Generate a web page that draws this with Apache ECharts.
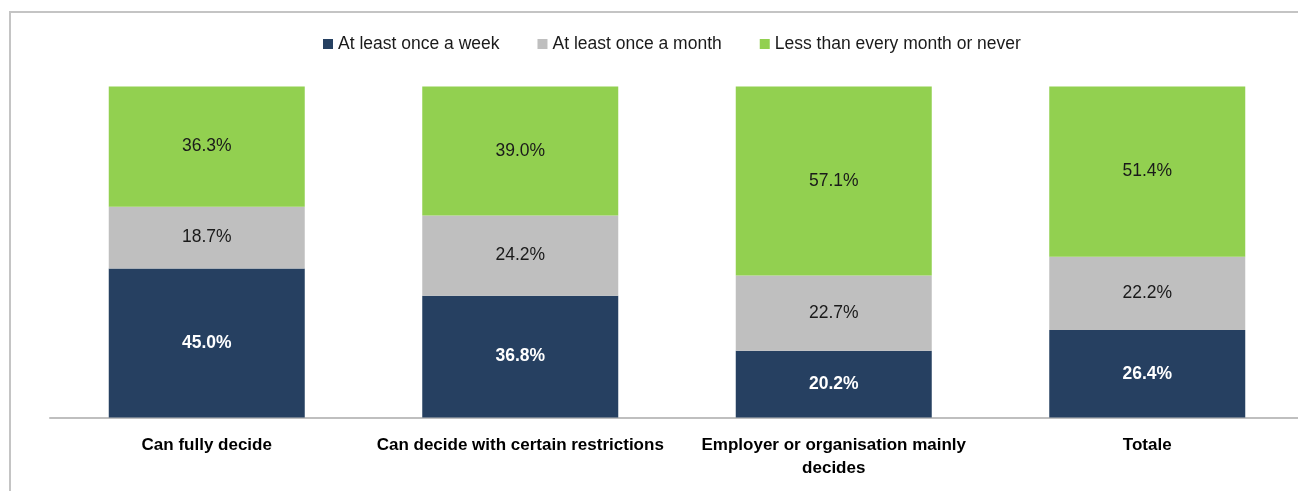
<!DOCTYPE html>
<html>
<head>
<meta charset="utf-8">
<script src="https://cdn.jsdelivr.net/npm/echarts@6/dist/echarts.min.js"></script>
<style>
html,body{margin:0;padding:0;background:#fff;overflow:hidden;}
#c{width:1304px;height:491px;}
</style>
</head>
<body>
<div id="c"></div>
<script>
const categories = ["Can fully decide", "Can decide with certain restrictions", "Employer or organisation mainly\ndecides", "Totale"];
const seriesNames = ["At least once a week", "At least once a month", "Less than every month or never"];
const weekly = [45.0, 36.8, 20.2, 26.4];
const monthly = [18.7, 24.2, 22.7, 22.2];
const rarely = [36.3, 39.0, 57.1, 51.4];
const colors = ["#264061", "#BFBFBF", "#92D050"];

const FONT = "'Liberation Sans Narrow', 'Arial Narrow', 'Liberation Sans', Arial, sans-serif";
const values = [weekly, monthly, rarely];

const chart = echarts.init(document.getElementById('c'), null, {renderer: 'canvas'});
chart.setOption({
  animation: false,
  color: colors,
  graphic: [{
    type: 'rect',
    shape: {x: 10, y: 12, width: 1320, height: 520},
    style: {fill: 'none', stroke: '#C4C4C4', lineWidth: 2},
    silent: true
  }],
  legend: {
    top: 35,
    left: 323,
    padding: 0,
    itemWidth: 10,
    itemHeight: 10,
    itemGap: 38,
    icon: 'rect',
    textStyle: {fontFamily: FONT, fontSize: 17.5, color: '#1a1a1a'},
    data: seriesNames
  },
  grid: {left: 50, right: 0, top: 86.5, bottom: 73.5, containLabel: false},
  xAxis: {
    type: 'category',
    data: categories,
    axisLine: {lineStyle: {color: '#BFBFBF', width: 2}},
    axisTick: {show: false},
    axisLabel: {
      fontFamily: FONT, fontSize: 17, fontWeight: 'bold', color: '#000',
      margin: 16, lineHeight: 23, interval: 0
    }
  },
  yAxis: {
    type: 'value', min: 0, max: 100, show: false,
    splitLine: {show: false}
  },
  series: values.map((v, i) => ({
    name: seriesNames[i],
    type: 'bar',
    stack: 'total',
    barWidth: 196,
    data: v,
    itemStyle: {color: colors[i]},
    label: {
      show: true,
      position: 'inside',
      formatter: p => p.value.toFixed(1) + '%',
      fontFamily: FONT,
      fontSize: 17.5,
      fontWeight: i === 0 ? 'bold' : 'normal',
      color: i === 0 ? '#FFFFFF' : '#1a1a1a'
    }
  }))
});
</script>
</body>
</html>
